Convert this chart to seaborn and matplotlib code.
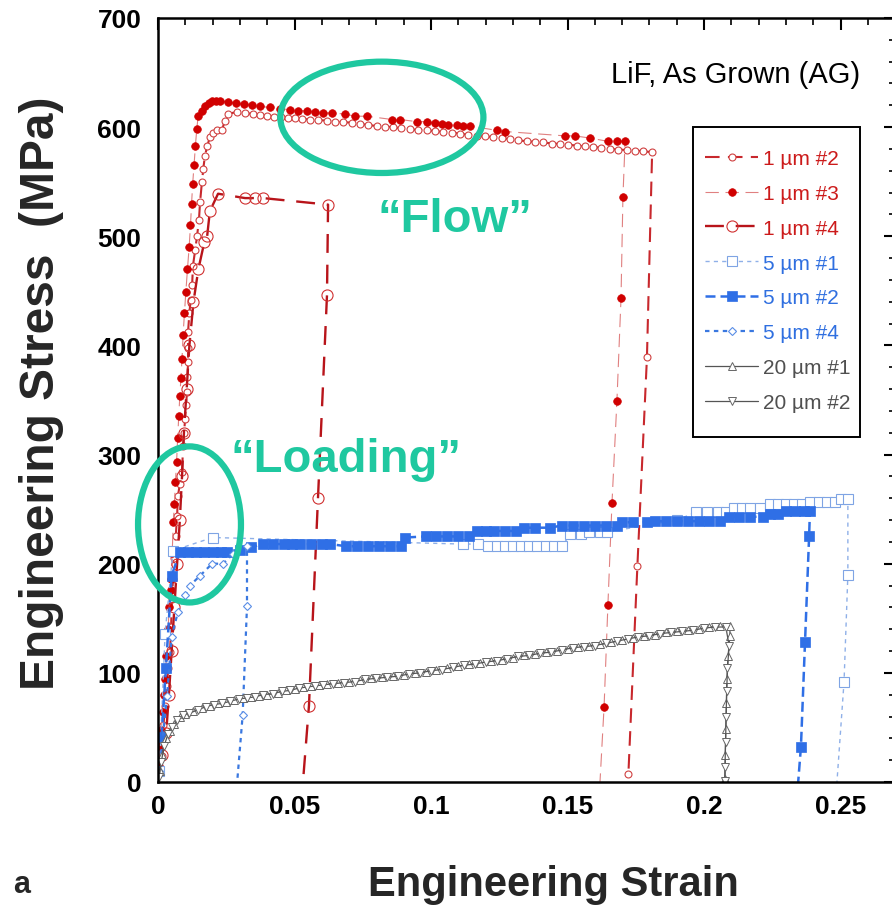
import matplotlib
matplotlib.use('Agg')
import matplotlib.pyplot as plt
import seaborn as sns
from matplotlib.patches import Ellipse, Rectangle
from matplotlib.ticker import MultipleLocator, FixedLocator

# ---------------- data ----------------
# 1 um #2 (open small circles)
x_1um2 = [0.0008, 0.0015, 0.0015, 0.0020, 0.0026, 0.0032, 0.0038, 0.0044, 0.0048, 0.0051,
          0.0055, 0.0060, 0.0065, 0.0070, 0.0073, 0.0080, 0.0088, 0.0092, 0.0096, 0.0099,
          0.0103, 0.0106, 0.0108, 0.0110, 0.0110, 0.0110, 0.0115, 0.0120, 0.0125, 0.0128,
          0.0136, 0.0143, 0.0150, 0.0154, 0.0161, 0.0166, 0.0172, 0.0181, 0.0190, 0.0203,
          0.0216, 0.0234, 0.0245, 0.0256,
          0.0289, 0.0319, 0.0348, 0.0374, 0.0399, 0.0425, 0.0451, 0.0476, 0.0502, 0.0527,
          0.0557, 0.0586, 0.0619, 0.0648, 0.0678, 0.0711, 0.0740, 0.0769, 0.0802, 0.0832,
          0.0861, 0.0890, 0.0923, 0.0952, 0.0985, 0.1015, 0.1044, 0.1077, 0.1106, 0.1136,
          0.1168, 0.1198, 0.1227, 0.1260, 0.1289, 0.1319, 0.1352, 0.1381, 0.1410, 0.1443,
          0.1473, 0.1502, 0.1535, 0.1564, 0.1593, 0.1623, 0.1656, 0.1685, 0.1718, 0.1747,
          0.1777, 0.1810, 0.1791, 0.1756, 0.1723]
y_1um2 = [12, 24, 37, 52, 70, 88, 104, 119, 142, 168,
          186, 205, 225, 244, 262, 273, 284, 308, 320, 333,
          345, 357, 371, 385, 398, 412, 430, 442, 455, 473,
          487, 500, 515, 531, 550, 562, 574, 583, 591, 595,
          597, 597, 606, 612,
          614, 613, 612, 611, 610, 609.5, 609, 608.5, 608, 607.5,
          607, 606.5, 606, 605, 604.7, 604, 603, 602, 601, 600.5,
          600, 599, 598, 597.5, 597, 596.5, 595.6, 595, 594, 593,
          592, 591.5, 591, 590, 589, 588, 587, 586.5, 586, 585,
          584.6, 584, 583, 582.5, 582, 581, 580, 579.5, 579, 578.5,
          578, 577, 389, 198, 7]

# 1 um #3 (filled circles)
x_1um3 = [0.0004, 0.0007, 0.0012, 0.0018, 0.0022, 0.0026, 0.0031, 0.0037, 0.0041, 0.0046,
          0.0048, 0.0052, 0.0056, 0.0060, 0.0064, 0.0068, 0.0072, 0.0076, 0.0080, 0.0084,
          0.0088, 0.0092, 0.0097, 0.0102, 0.0108, 0.0114, 0.0119, 0.0123, 0.0127, 0.0132,
          0.0137, 0.0142, 0.0147, 0.0160, 0.0172, 0.0185, 0.0198, 0.0212, 0.0227,
          0.0256, 0.0286, 0.0315, 0.0344, 0.0374, 0.0410, 0.0447, 0.0484, 0.0513, 0.0546,
          0.0575, 0.0604, 0.0637, 0.0685, 0.0722, 0.0766, 0.0857, 0.0886, 0.0949, 0.0985,
          0.1015, 0.1040, 0.1062, 0.1095, 0.1117, 0.1143, 0.1242, 0.1271, 0.1491, 0.1527,
          0.1582, 0.1648, 0.1681, 0.1711, 0.1703, 0.1696, 0.1681, 0.1663, 0.1648, 0.1634,
          0.1619]
y_1um3 = [15, 33, 48, 64, 80, 94, 115, 140, 160, 176,
          186, 210, 238, 255, 275, 293, 315, 335, 354, 370,
          388, 410, 430, 449, 470, 490, 510, 530, 548, 565,
          583, 598, 610, 615, 619, 622, 624, 624, 624,
          623, 622, 621, 620, 619, 618, 617, 616, 615, 615,
          614, 613, 613, 612, 610, 610, 607, 607, 605, 605,
          604, 603, 602, 602, 601, 601, 597, 596, 592, 592,
          590, 587, 587, 587, 536, 443, 349, 256, 162, 69,
          0]

# 1 um #4 (large open circles)
x_1um4 = [0.0015, 0.0030, 0.0040, 0.0050, 0.0060, 0.0070, 0.0080, 0.0088, 0.0095, 0.0105,
          0.0115, 0.0130, 0.0148, 0.0170, 0.0180, 0.0190, 0.0220, 0.0319, 0.0355, 0.0385,
          0.0623, 0.0619, 0.0586, 0.0553, 0.0531]
y_1um4 = [25, 45, 80, 120, 160, 200, 240, 280, 320, 360,
          400, 440, 470, 495, 500, 523, 539, 535, 535, 535,
          529, 446, 260, 70, 0]

# 5 um #1 (open squares)
x_5um1 = [0.0005, 0.0026, 0.0055, 0.0200, 0.1117, 0.1172, 0.121, 0.124, 0.127, 0.130,
          0.133, 0.136, 0.139, 0.142, 0.145, 0.148, 0.151, 0.155, 0.158, 0.162,
          0.1645, 0.190, 0.197, 0.201, 0.205, 0.208, 0.211, 0.214, 0.217, 0.2205,
          0.224, 0.227, 0.230, 0.233, 0.236, 0.239, 0.242, 0.245, 0.248, 0.250,
          0.2527, 0.2527, 0.2513, 0.2487]
y_5um1 = [10, 136, 212, 224, 218, 218, 216, 216, 216, 216,
          216, 216, 216, 216, 216, 216, 227, 227, 229, 229,
          229, 240, 247, 247, 247, 247, 251, 251, 251, 251,
          255, 255, 255, 255, 255, 257, 257, 257, 257, 259,
          259, 190, 92, 0]

# 5 um #2 (filled squares)
x_5um2 = [0.0013, 0.0029, 0.0050, 0.0080, 0.0110, 0.0140, 0.0170, 0.0200, 0.0230, 0.0253,
          0.0300, 0.0340, 0.0385, 0.0420, 0.0460, 0.0490, 0.0520, 0.0560, 0.0600, 0.0630,
          0.0690, 0.0730, 0.0770, 0.0810, 0.0850, 0.0890, 0.0905, 0.0980, 0.1020, 0.1060,
          0.1100, 0.1140, 0.1170, 0.1200, 0.1230, 0.1270, 0.1310, 0.1340, 0.1380, 0.1435,
          0.1480, 0.1520, 0.1560, 0.1600, 0.1640, 0.1680, 0.1700, 0.1740, 0.1790, 0.1820,
          0.1860, 0.1900, 0.1940, 0.1980, 0.2020, 0.2060, 0.2090, 0.2130, 0.2170, 0.2216,
          0.2240, 0.2270, 0.2300, 0.2335, 0.2365, 0.2388, 0.2385, 0.2370, 0.2355, 0.2345]
y_5um2 = [41, 104, 189, 211, 211, 211, 211, 211, 211, 211,
          213, 215, 218, 218, 218, 218, 218, 218, 218, 218,
          216, 216, 216, 216, 216, 216, 224, 225, 225, 225,
          225, 225, 230, 230, 230, 230, 230, 233, 233, 233,
          235, 235, 235, 235, 235, 235, 238, 238, 238, 239,
          239, 239, 239, 239, 239, 239, 243, 243, 243, 243,
          245.6, 245.6, 248, 248, 248, 248, 225, 128, 32, 0]

# 5 um #4 (open diamonds)
x_5um4 = [0.0005, 0.0033, 0.0050, 0.0073, 0.0100, 0.0117, 0.0154, 0.0198, 0.0238, 0.0275,
          0.0326, 0.0326, 0.0310, 0.0290]
y_5um4 = [10, 79, 133, 156, 171, 180, 189, 200, 200, 209,
          216, 161, 61, 0]

# 20 um #1 (up triangles)
x_20um1 = [0.0007, 0.0015, 0.003, 0.0045, 0.006, 0.008, 0.010, 0.013, 0.016, 0.019,
           0.022, 0.025, 0.028, 0.031, 0.034, 0.037, 0.040, 0.044, 0.047, 0.050,
           0.053, 0.056, 0.059, 0.062, 0.066, 0.070, 0.074, 0.078, 0.082, 0.086,
           0.090, 0.094, 0.098, 0.102, 0.106, 0.110, 0.114, 0.118, 0.122, 0.126,
           0.130, 0.134, 0.138, 0.142, 0.146, 0.150, 0.154, 0.158, 0.162, 0.166,
           0.170, 0.174, 0.178, 0.182, 0.186, 0.190, 0.194, 0.198, 0.202, 0.206,
           0.2095, 0.2095, 0.2088, 0.2084, 0.2082, 0.2080, 0.2078, 0.2077]
y_20um1 = [10, 25, 40, 47, 53, 60, 62, 65, 68, 70,
           72, 73, 75, 77, 78, 79, 80, 82, 84, 85,
           87, 88, 89, 90, 91, 92, 93, 95, 96, 97,
           98, 100, 101, 103, 104, 106, 108, 109, 111, 112,
           114, 116, 117, 119, 120, 122, 124, 125, 126, 128,
           130, 132, 134, 135, 137, 138, 139, 140, 142, 143,
           143, 134, 115, 94, 72, 49, 25, 3]

# 20 um #2 (down triangles)
x_20um2 = [0.0005, 0.0012, 0.0022, 0.0037, 0.0052, 0.007, 0.009, 0.0115, 0.0145, 0.0175,
           0.0205, 0.0235, 0.0265, 0.0295, 0.0325, 0.0355, 0.0385, 0.042, 0.0455, 0.0485,
           0.0515, 0.0545, 0.0575, 0.0605, 0.064, 0.068, 0.072, 0.076, 0.080, 0.084,
           0.088, 0.092, 0.096, 0.100, 0.104, 0.108, 0.112, 0.116, 0.120, 0.124,
           0.128, 0.132, 0.136, 0.140, 0.144, 0.148, 0.152, 0.156, 0.160, 0.164,
           0.168, 0.172, 0.176, 0.180, 0.184, 0.188, 0.192, 0.196, 0.200, 0.204,
           0.208, 0.2092, 0.2086, 0.2083, 0.2081, 0.2079, 0.2077, 0.2076]
y_20um2 = [5, 18, 33, 44, 50, 57, 61, 63, 66, 69,
           71, 72, 74, 76, 77, 78, 80, 81, 83, 84,
           86, 87, 88, 89, 90, 91, 92, 94, 95, 96,
           97, 99, 100, 102, 103, 105, 107, 108, 110, 111,
           113, 115, 116, 118, 119, 121, 123, 124, 125, 127,
           129, 131, 133, 134, 136, 137, 138, 139, 141, 142,
           142, 125, 104, 83, 60, 37, 14, 1]

series_labels = ['1 µm #2', '1 µm #3', '1 µm #4', '5 µm #1', '5 µm #2', '5 µm #4',
                 '20 µm #1', '20 µm #2']
x_ticks = [0, 0.05, 0.1, 0.15, 0.2, 0.25]
x_tick_labels = ['0', '0.05', '0.1', '0.15', '0.2', '0.25']
y_ticks = [0, 100, 200, 300, 400, 500, 600, 700]

# ---------------- styling ----------------
sns.set_theme(style='white')
plt.rcParams['font.family'] = ['Liberation Sans', 'DejaVu Sans']

RED = '#d00000'
BLUE = '#2f6fe6'
LBLUE = '#8fb0e8'
GRAY = '#555555'
TEAL = '#1fc8a0'

styles = [
    dict(color='#c8282d', lw=1.5, linestyle=(0, (7, 4)), marker='o', markersize=5,
         markerfacecolor='white', markeredgecolor='#d04040', markeredgewidth=0.8),
    dict(color='#e08080', lw=0.8, linestyle=(0, (12, 6)), marker='o', markersize=5.5,
         markerfacecolor=RED, markeredgecolor=RED, markeredgewidth=0.5),
    dict(color='#b8141a', lw=1.7, linestyle=(0, (8, 5)), marker='o', markersize=8,
         markerfacecolor='none', markeredgecolor='#d03030', markeredgewidth=0.8),
    dict(color=LBLUE, lw=1.0, linestyle=(0, (3, 3)), marker='s', markersize=6.5,
         markerfacecolor='white', markeredgecolor='#7fa4e4', markeredgewidth=0.8),
    dict(color=BLUE, lw=1.8, linestyle=(0, (4, 2)), marker='s', markersize=7.5,
         markerfacecolor=BLUE, markeredgecolor=BLUE, markeredgewidth=0.5),
    dict(color='#3a78e0', lw=1.6, linestyle=(0, (2, 2)), marker='D', markersize=4.5,
         markerfacecolor='white', markeredgecolor='#5a8ee6', markeredgewidth=0.8),
    dict(color=GRAY, lw=0.9, linestyle='-', marker='^', markersize=6,
         markerfacecolor='white', markeredgecolor='#666666', markeredgewidth=0.7),
    dict(color=GRAY, lw=0.9, linestyle='-', marker='v', markersize=6,
         markerfacecolor='white', markeredgecolor='#666666', markeredgewidth=0.7),
]
text_colors = ['#cc1a1a'] * 3 + ['#2f6fe0'] * 3 + ['#505050'] * 2
# series whose last point is only the end of the drop line (no marker)
no_last_marker = [False, True, True, True, True, True, False, False]

all_x = [x_1um2, x_1um3, x_1um4, x_5um1, x_5um2, x_5um4, x_20um1, x_20um2]
all_y = [y_1um2, y_1um3, y_1um4, y_5um1, y_5um2, y_5um4, y_20um1, y_20um2]

W, H = 892, 920
XMAX = 0.2705
fig = plt.figure(figsize=(W / 100, H / 100), dpi=100)
fig.patch.set_facecolor('white')
ax = fig.add_axes([158 / W, (H - 783) / H, XMAX * 2730 / W, 764 / H])

for lab, xs, ys, st, nl in zip(series_labels, all_x, all_y, styles, no_last_marker):
    kw = dict(st)
    if nl:
        kw['markevery'] = slice(0, len(xs) - 1)
    sns.lineplot(x=xs, y=ys, sort=False, estimator=None, ax=ax, label=lab, **kw)

ax.set_xlim(0, XMAX)
ax.set_ylim(0, 700)
ax.xaxis.set_major_locator(FixedLocator(x_ticks))
ax.set_xticklabels(x_tick_labels, fontsize=19, fontweight='bold')
ax.xaxis.set_minor_locator(MultipleLocator(0.01))
ax.yaxis.set_major_locator(FixedLocator(y_ticks))
ax.set_yticklabels([str(v) for v in y_ticks], fontsize=19, fontweight='bold')
ax.yaxis.set_minor_locator(MultipleLocator(20))
ax.tick_params(which='both', direction='in', top=True, right=True, colors='black')
ax.tick_params(which='major', length=8.5, width=1.5)
ax.tick_params(axis='x', which='major', pad=9)
ax.tick_params(axis='y', which='major', pad=12)
ax.tick_params(which='minor', length=5, width=1.2)
for sp in ax.spines.values():
    sp.set_color('black')
    sp.set_linewidth(1.8)

ax.set_xlabel('Engineering Strain', fontsize=30, fontweight='bold')
ax.set_ylabel('Engineering Stress  (MPa)', fontsize=34.5, fontweight='bold')
ax.xaxis.set_label_coords(0.537 * 737 / (XMAX * 2730), -0.107)
ax.yaxis.set_label_coords(-0.128 * 737 / (XMAX * 2730), 0.51)

# legend (content placed directly, frame drawn as a box)
leg = ax.legend(loc='upper left', bbox_to_anchor=(705 / W, 1 - 150 / H),
                bbox_transform=fig.transFigure, borderaxespad=0,
                fontsize=15, frameon=False,
                handlelength=2.55, handletextpad=0.24, labelspacing=0.76,
                borderpad=0, numpoints=1)
for t, c in zip(leg.get_texts(), text_colors):
    t.set_color(c)
fig.add_artist(Rectangle((693 / W, 1 - 438 / H), 167 / W, 310 / H,
                         transform=fig.transFigure, fill=False,
                         edgecolor='black', lw=1.4, zorder=10))

ax.text(0.9525 * 737 / (XMAX * 2730), 0.927, 'LiF, As Grown (AG)',
        transform=ax.transAxes, ha='right', va='center', fontsize=21, color='black')

# annotations
ax.add_patch(Ellipse((0.082, 609), 0.0744, 102, fill=False, edgecolor=TEAL, lw=4.5,
                     clip_on=False, zorder=5))
ax.add_patch(Ellipse((0.01154, 236), 0.0377, 143, fill=False, edgecolor=TEAL, lw=4.5,
                     clip_on=False, zorder=5))
ax.text(0.1088, 516, '\u201cFlow\u201d', color=TEAL, fontsize=34, fontweight='bold',
        ha='center', va='center')
ax.text(0.0689, 296, '\u201cLoading\u201d', color=TEAL, fontsize=34, fontweight='bold',
        ha='center', va='center')

fig.text(22 / W, 1 - 885 / H, 'a', fontsize=22, fontweight='bold', ha='center',
         va='center')

fig.savefig('out.png', dpi=100, facecolor='white')
